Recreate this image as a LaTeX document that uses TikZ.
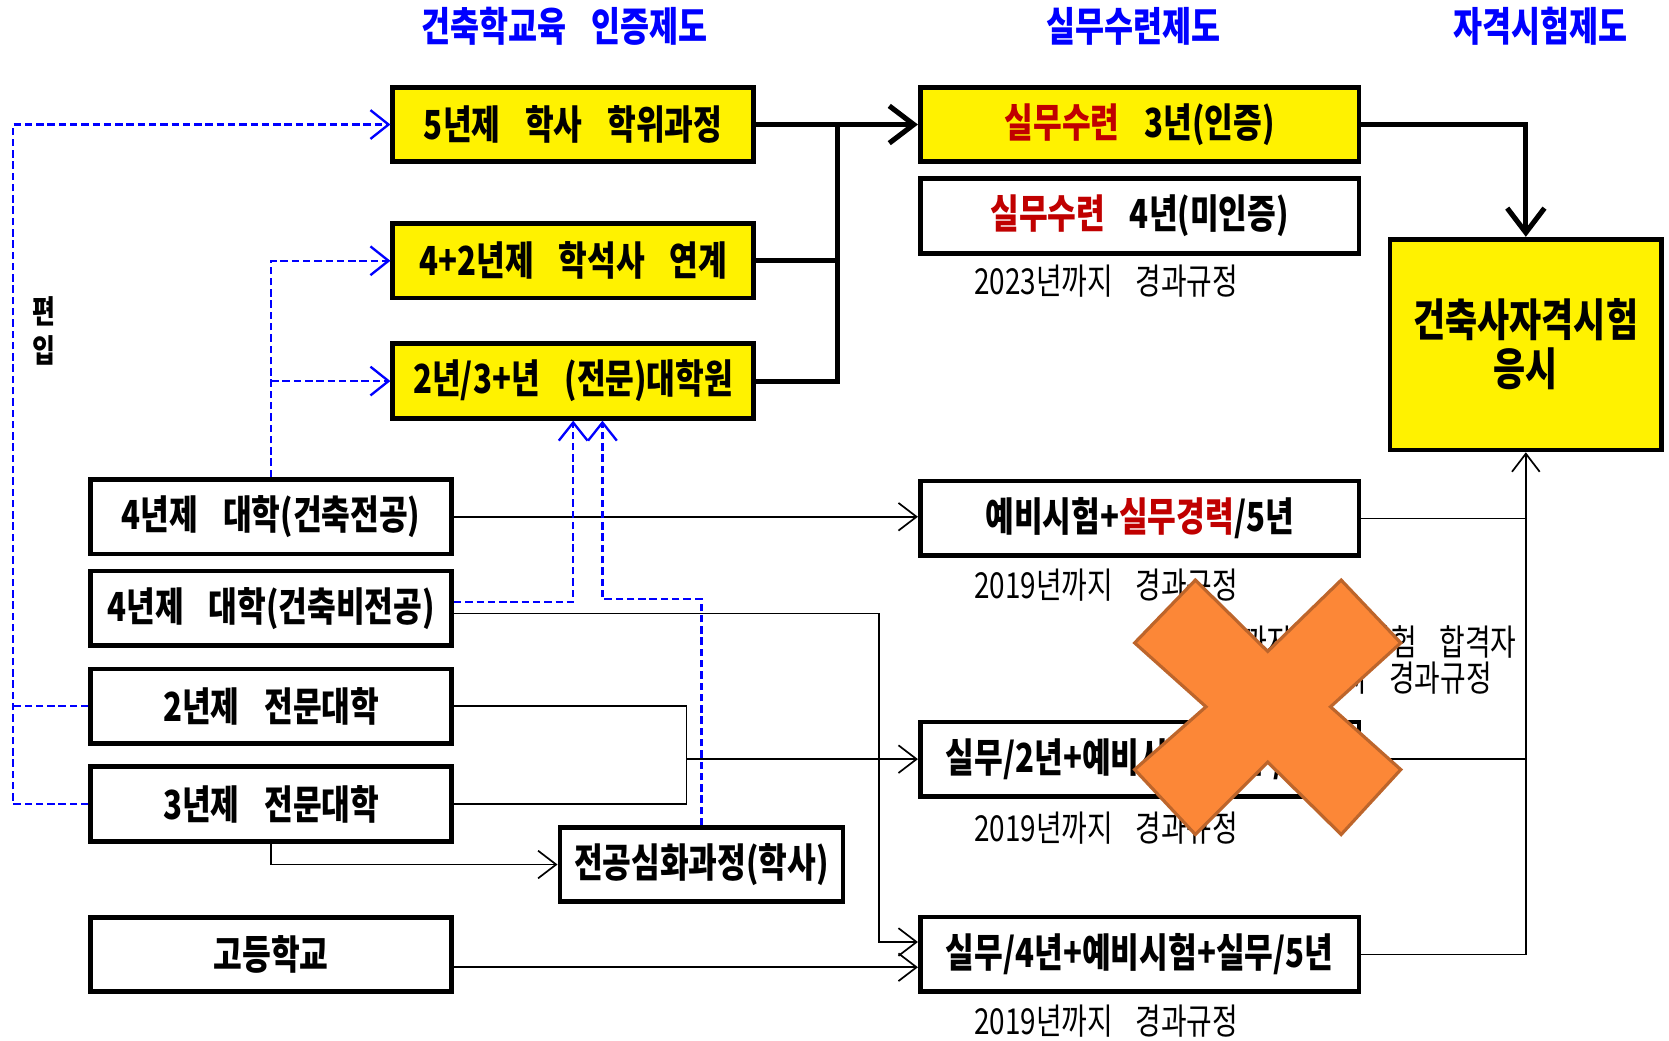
\documentclass[tikz,border=0pt]{standalone}
\usepackage{fontspec}
\setmainfont{Noto Sans CJK KR}[FakeStretch=0.78, BoldFont={Noto Sans CJK KR Black}]
\usetikzlibrary{arrows.meta}
\definecolor{krred}{HTML}{C00000}
\definecolor{xorange}{HTML}{FC8737}
\definecolor{xedge}{HTML}{BD652B}
\newcommand{\wsp}{\hspace{0.62em}}
\tikzset{%
    kbox/.style={draw, line width=2.2pt, minimum width=169.5pt, minimum height=35pt, inner sep=0pt, font=\bfseries\fontsize{18.8}{21}\selectfont},
    ybox/.style={kbox, fill=yellow},
    wbox/.style={kbox, fill=white},
    hdr/.style={text=blue, inner sep=0pt, font=\bfseries\fontsize{19}{22}\selectfont},
    capt/.style={anchor=west, inner sep=0pt, font=\fontsize{16.8}{19}\selectfont},
    pri/.style={line width=2.4pt},
    pria/.style={line width=2.4pt, -{Straight Barb[length=11.5pt, width=17.5pt]}},
    sec/.style={line width=0.8pt},
    seca/.style={line width=0.8pt, -{Straight Barb[length=8.5pt, width=13pt]}},
    blu/.style={draw=blue, line width=1.1pt, dash pattern=on 3.5pt off 1.8pt},
    blua/.style={blu, -{Straight Barb[length=8.5pt, width=13.5pt]}},
}

\begin{document}
\begin{tikzpicture}[x=0.5pt, y=-0.5pt]
    \useasboundingbox (0,0) rectangle (1568,978);
    \node[hdr] (h1) at (530.5,25) {건축학교육\wsp 인증제도};
    \node[hdr] (h2) at (1065,25) {실무수련제도};
    \node[hdr] (h3) at (1447.5,25) {자격시험제도};

    \node[ybox] (a1) at (538.5,117) {5년제\wsp 학사\wsp 학위과정};
    \node[ybox] (a2) at (538.5,245) {4+2년제\wsp 학석사\wsp 연계};
    \node[ybox] (a3) at (538.5,358) {2년/3+년\wsp (전문)대학원};

    \node[ybox, minimum width=206pt] (b1) at (1070.6,117) {{\color{krred}실무수련}\wsp 3년(인증)};
    \node[wbox, minimum width=206pt] (b2) at (1070.6,203) {{\color{krred}실무수련}\wsp 4년(미인증)};
    \node[capt] (t1) at (915,264) {2023년까지\wsp 경과규정};
    \node[ybox, minimum width=127.5pt, minimum height=99pt, align=center, font=\bfseries\fontsize{21}{23}\selectfont] (c) at (1433.5,323.7) {건축사자격시험\\응시};

    \node[wbox] (l1) at (254.8,485.5) {4년제\wsp 대학(건축전공)};
    \node[wbox] (l2) at (254.8,571.5) {4년제\wsp 대학(건축비전공)};
    \node[wbox] (l3) at (254.8,663.4) {2년제\wsp 전문대학};
    \node[wbox] (l4) at (254.8,755.3) {3년제\wsp 전문대학};
    \node[wbox, minimum width=133pt, minimum height=34.5pt] (l5) at (659,812.2) {전공심화과정(학사)};
    \node[wbox] (l6) at (254.8,896.7) {고등학교};

    \node[wbox, minimum width=206pt] (m1) at (1070.6,487) {예비시험+{\color{krred}실무경력}/5년};
    \node[capt] (t2) at (915,549.5) {2019년까지\wsp 경과규정};
    \node[capt, anchor=east] (t3) at (1425,603) {2019년까지\wsp 예비시험\wsp 합격자};
    \node[capt, anchor=east] (t4) at (1402,637) {2019년까지\wsp 경과규정};
    \node[wbox, minimum width=206pt] (m2) at (1070.6,713.2) {실무/2년+예비시험+실무/5년};
    \node[capt] (t5) at (915,777.6) {2019년까지\wsp 경과규정};
    \node[wbox, minimum width=206pt] (m3) at (1070.6,896.6) {실무/4년+예비시험+실무/5년};
    \node[capt] (t6) at (915,959) {2019년까지\wsp 경과규정};

    \node[inner sep=0pt, align=center, font=\bfseries\fontsize{15}{18.5}\selectfont] (pyeon) at (41,311) {편\\입};

    \coordinate (jn) at (787,117);
    \draw[pria] (a1.east) -- (b1.west);
    \draw[pri] (a3.east) -| (jn);
    \draw[pri] (a2.east) -- (a2.east -| jn);
    \draw[pria] (b1.east) -| (c.north);

    \coordinate (jx) at (645,713.2);
    \coordinate (kx) at (826,885);
    \draw[seca] (l1.east) -- (l1.east -| m1.west);
    \draw[seca] ([yshift=-2.5pt]l2.east) -| (kx) -- (kx -| m3.west);
    \draw[sec] (l3.east) -| (jx) |- (l4.east);
    \draw[seca] (jx) -- (jx -| m2.west);
    \draw[seca] (l4.south) |- (l5.west);
    \draw[seca] ([yshift=-6pt]l6.east) -- ([yshift=-6pt]l6.east -| m3.west);
    \draw[sec] (m1.east) -- (m1.east -| c.south);
    \draw[sec] (m2.east) -- (m2.east -| c.south);
    \draw[seca] (m3.east) -| (c.south);

    \coordinate (ed) at (12,117);
    \coordinate (ua) at (566,563);
    \draw[blua] (l4.west) -| (ed) -- (a1.west);
    \draw[blu] (l3.west) -- (l3.west -| ed);
    \draw[blua] (l1.north) |- (a2.west);
    \draw[blua] (l1.north |- a3.west) -- (a3.west);
    \draw[blua] ([yshift=3pt]l2.east) -| (a3.south);
    \draw[blua] (l5.north) |- (ua) -- (ua |- a3.south);

    \draw[xedge, fill=xorange, line width=1.5pt] (1066,604) -- (1123,545) -- (1191,612) -- (1260,545) -- (1316,604) -- (1250,664) -- (1316,723) -- (1260,784) -- (1191,716) -- (1123,784) -- (1066,723) -- (1133,664) -- cycle;
\end{tikzpicture}
\end{document}
